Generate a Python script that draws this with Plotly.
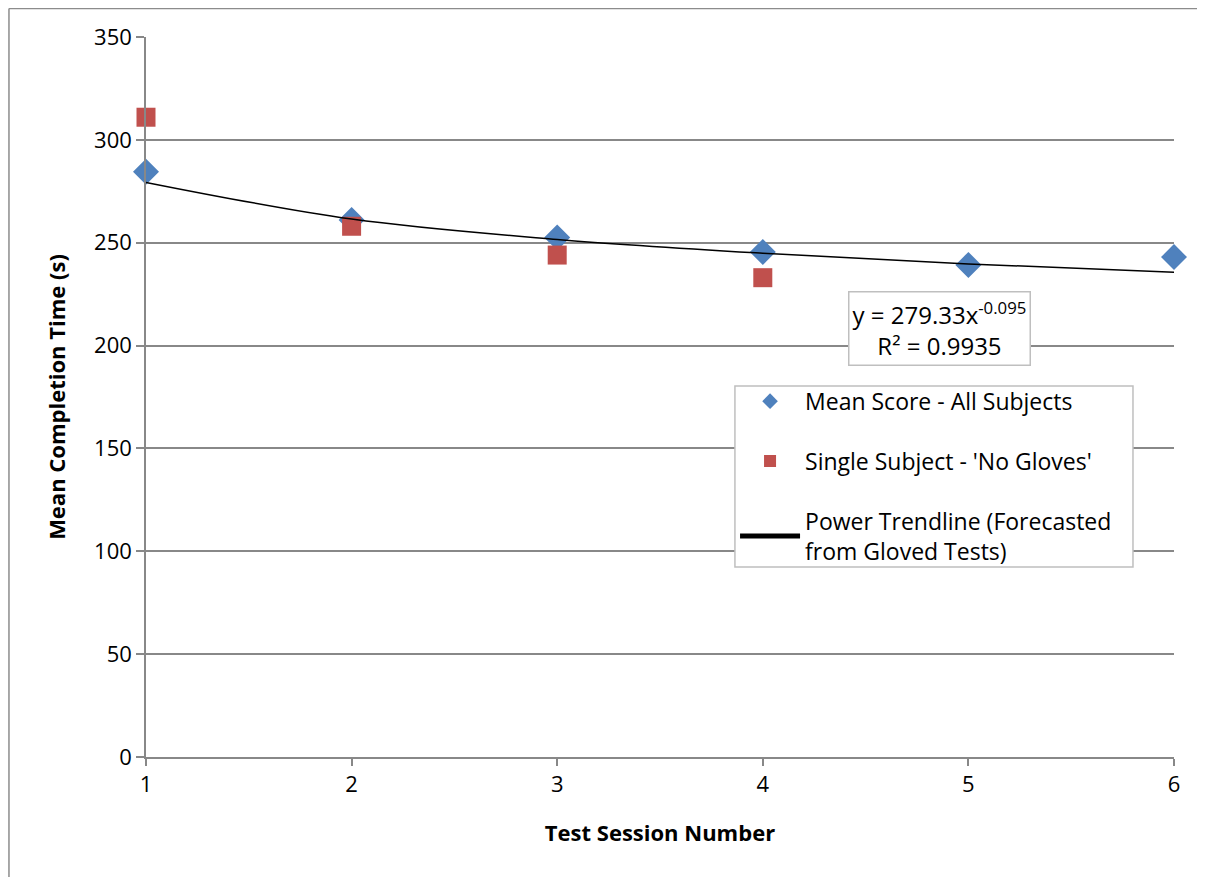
import plotly.graph_objects as go

sessions = [1, 2, 3, 4, 5, 6]
mean_all = [284.5, 261.0, 252.5, 245.5, 239.2, 243.0]
single_sessions = [1, 2, 3, 4]
single_no_gloves = [311.0, 258.0, 244.0, 233.0]
trend_values = [279.33, 261.5, 251.6, 244.9, 239.7, 235.6]

FONT = "Open Sans"

fig = go.Figure()
fig.add_trace(go.Scatter(
    x=sessions, y=mean_all, mode="markers", name="Mean Score - All Subjects",
    marker=dict(symbol="diamond", size=20, color="#4F81BD", line=dict(width=0)),
    cliponaxis=False, legendgroup="a"))
fig.add_trace(go.Scatter(
    x=single_sessions, y=single_no_gloves, mode="markers",
    name="Single Subject - 'No Gloves'",
    marker=dict(symbol="square", size=19, color="#C0504D", line=dict(width=0)),
    cliponaxis=False, legendgroup="b"))
fig.add_trace(go.Scatter(
    x=sessions, y=trend_values, mode="lines",
    name="Power Trendline (Forecasted<br>from Gloved Tests)",
    line=dict(color="black", width=1.5, shape="spline", smoothing=1.0),
    legendgroup="c"))

fig.add_annotation(
    x=4.86, y=208.3, xref="x", yref="y",
    text="y = 279.33x<sup>-0.095</sup><br>R² = 0.9935",
    showarrow=False, align="center",
    font=dict(family=FONT, size=24, color="black"),
    bgcolor="white", bordercolor="#BFBFBF", borderwidth=1.5, borderpad=3)

# outer chart border (left and top edges visible)
fig.add_shape(type="line", xref="paper", yref="paper",
              x0=-0.1333, x1=-0.1333, y0=-0.3, y1=1.0396,
              line=dict(color="#8C8C8C", width=1.5), layer="below")
fig.add_shape(type="line", xref="paper", yref="paper",
              x0=-0.1333, x1=1.2, y0=1.0396, y1=1.0396,
              line=dict(color="#8C8C8C", width=1.5), layer="below")
# legend box
fig.add_shape(type="rect", xref="paper", yref="paper",
              x0=0.5729, x1=0.9601, y0=0.2639, y1=0.5153,
              line=dict(color="#BFBFBF", width=1.5), fillcolor="white",
              layer="above")

fig.update_layout(
    width=1205, height=877,
    margin=dict(l=138, r=39, t=29, b=128),
    paper_bgcolor="white", plot_bgcolor="white",
    font=dict(family=FONT, size=22, color="black"),
    showlegend=True,
    legend=dict(
        x=0.573, y=0.524, xanchor="left", yanchor="top",
        bgcolor="rgba(0,0,0,0)", borderwidth=0,
        font=dict(family=FONT, size=23, color="black"),
        tracegroupgap=27, itemsizing="constant", itemwidth=60),
    xaxis=dict(
        range=[1, 6], tickmode="array", tickvals=sessions,
        ticktext=[str(s) for s in sessions],
        showgrid=False, zeroline=False,
        showline=True, linecolor="#888888", linewidth=1.5,
        ticks="outside", ticklen=7, tickcolor="#888888", tickwidth=1.5,
        tickfont=dict(family=FONT, size=22),
        title=dict(text="<b>Test Session Number</b>", font=dict(family=FONT, size=22), standoff=28)),
    yaxis=dict(
        range=[0, 350], tickmode="array", tickvals=[0, 50, 100, 150, 200, 250, 300, 350],
        showgrid=True, gridcolor="#888888", gridwidth=1.5, zeroline=False,
        showline=True, linecolor="#888888", linewidth=1.5,
        ticks="outside", ticklen=8, tickcolor="#888888", tickwidth=1.5,
        tickfont=dict(family=FONT, size=22),
        title=dict(text="<b>Mean Completion Time (s)</b>", font=dict(family=FONT, size=22), standoff=22)),
)

fig.write_html("out.html")
